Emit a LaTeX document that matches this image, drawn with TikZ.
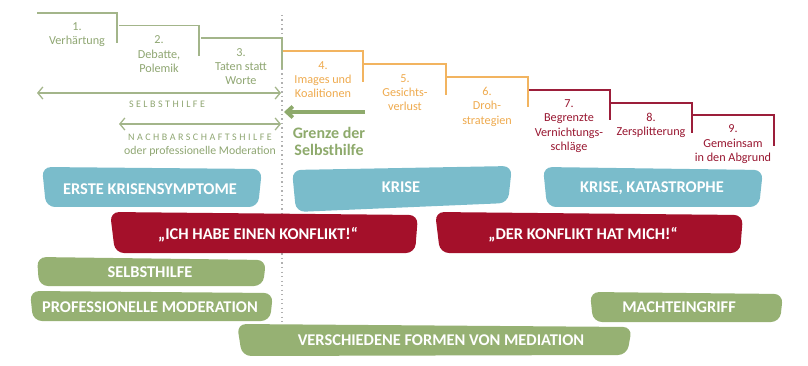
\documentclass[tikz,border=0pt]{standalone}
\usepackage{fontspec}
\setmainfont{Carlito}
\usetikzlibrary{arrows.meta}
\definecolor{lgreen}{HTML}{A3B58A}
\definecolor{tgreen}{HTML}{8FA672}
\definecolor{lorange}{HTML}{F2B460}
\definecolor{torange}{HTML}{EEAA4E}
\definecolor{lred}{HTML}{9C1E3A}
\definecolor{tred}{HTML}{981630}
\definecolor{bblue}{HTML}{7ABCCB}
\definecolor{bred}{HTML}{A4102A}
\definecolor{bgreen}{HTML}{96B173}
\definecolor{grenze}{HTML}{8EAA6C}
\definecolor{dotgray}{HTML}{B0B0B0}
\tikzset{
  stepline/.style={line width=1.3pt},
  steptext/.style={anchor=north, inner sep=0pt, align=center, font=\fontsize{12.2}{14.4}\selectfont},
  band/.style={rounded corners=9pt},
  bandtext/.style={text=white, inner sep=0pt, font=\fontsize{16.4}{18}\selectfont\bfseries},
  spaced/.style={inner sep=0pt, text=tgreen, font=\fontsize{10}{12}\selectfont\addfontfeatures{LetterSpace=25}},
  rangearrow/.style={draw=lgreen, line width=1.3pt, {Straight Barb[length=5pt,width=12pt]}-{Straight Barb[length=5pt,width=12pt]}},
}
\begin{document}
\begin{tikzpicture}[x=1pt,y=-1pt]
\useasboundingbox (0,0) rectangle (808,366);
% dotted divider
\coordinate (dtop) at (282,15);
\coordinate (dbot) at (282,325);
\draw[dotgray, line width=1.3pt, dash pattern=on 1.3pt off 3.2pt] (dtop) -- (dbot);
% steps
\draw[stepline, lgreen] (37,13) -- (117,13) -- (117,43);
\draw[stepline, lgreen] (119,25.5) -- (199,25.5) -- (199,56);
\draw[stepline, lgreen] (201,38) -- (282,38) -- (282,69);
\draw[stepline, lorange] (283,51) -- (363,51) -- (363,82);
\draw[stepline, lorange] (364,64) -- (446,64) -- (446,95);
\draw[stepline, lorange] (447,77) -- (528,77) -- (528,107);
\draw[stepline, lred] (529,90) -- (610,90) -- (610,120);
\draw[stepline, lred] (611,103) -- (692,103) -- (692,133);
\draw[stepline, lred] (693,115) -- (774,115) -- (774,146);
\node[steptext, text=tgreen] (s1) at (77,22.5) {1.\\Verhärtung};
\node[steptext, text=tgreen] (s2) at (159,35.5) {2.\\Debatte,\\Polemik};
\node[steptext, text=tgreen] (s3) at (241,48) {3.\\Taten statt\\Worte};
\node[steptext, text=torange] (s4) at (323,61) {4.\\Images und\\Koalitionen};
\node[steptext, text=torange] (s5) at (405,74) {5.\\Gesichts-\\verlust};
\node[steptext, text=torange] (s6) at (487,87) {6.\\Droh-\\strategien};
\node[steptext, text=tred] (s7) at (569,99.5) {7.\\Begrenzte\\Vernichtungs-\\schläge};
\node[steptext, text=tred] (s8) at (651,112.5) {8.\\Zersplitterung};
\node[steptext, text=tred] (s9) at (733,124.5) {9.\\Gemeinsam\\in den Abgrund};
% range arrows
\coordinate (a1l) at (37,93);
\coordinate (a1r) at (281,93);
\draw[rangearrow] (a1l) -- (a1r);
\node[spaced] (selbst) at (167,104) {SELBSTHILFE};
\coordinate (a2l) at (119,124);
\coordinate (a2r) at (281,124);
\draw[rangearrow] (a2l) -- (a2r);
\node[spaced] (nachbar) at (200,137) {NACHBARSCHAFTSHILFE};
\node[inner sep=0pt, text=tgreen, font=\fontsize{11.8}{14}\selectfont] (oder) at (200,151) {oder professionelle Moderation};
% Grenze
\coordinate (gr) at (365,112);
\coordinate (gl) at (284,112);
\draw[grenze, line width=3.8pt, -{Straight Barb[length=6pt,width=11pt]}] (gr) -- (gl);
\node[align=center, inner sep=0pt, text=grenze, font=\fontsize{16}{17}\selectfont\bfseries] (grenz) at (329,141.5) {Grenze der\\Selbsthilfe};
% bands
\fill[band, bblue] (42,167) -- (262,169) -- (258,207) -- (46,207) -- cycle;
\node[bandtext] (b1) at (150,189) {ERSTE KRISENSYMPTOME};
\fill[band, bblue] (292,170) -- (512,166) -- (508,203) -- (296,212) -- cycle;
\node[bandtext] (b2) at (401,187) {KRISE};
\fill[band, bblue] (543,167) -- (763,170) -- (759,207) -- (547,207) -- cycle;
\node[bandtext] (b3) at (652,188) {KRISE, KATASTROPHE};
\fill[band, bred] (110,212) -- (418,215) -- (415,253) -- (115,253) -- cycle;
\node[bandtext] (r1) at (258,235) {„ICH HABE EINEN KONFLIKT!“};
\fill[band, bred] (435,212) -- (743,215) -- (740,253) -- (440,253) -- cycle;
\node[bandtext] (r2) at (583,235) {„DER KONFLIKT HAT MICH!“};
\fill[band, bgreen] (37,257) -- (266,260) -- (263,286) -- (39,286) -- cycle;
\node[bandtext] (g1) at (150,272) {SELBSTHILFE};
\fill[band, bgreen] (30,291) -- (273,293) -- (270,321) -- (33,321) -- cycle;
\node[bandtext] (g2) at (150,307) {PROFESSIONELLE MODERATION};
\fill[band, bgreen] (237,324) -- (632,327) -- (627,355) -- (242,356) -- cycle;
\node[bandtext] (g3) at (441,340) {VERSCHIEDENE FORMEN VON MEDIATION};
\fill[band, bgreen] (590,292) -- (783,294) -- (780,322) -- (593,322) -- cycle;
\node[bandtext] (g4) at (679,307) {MACHTEINGRIFF};
\end{tikzpicture}
\end{document}
